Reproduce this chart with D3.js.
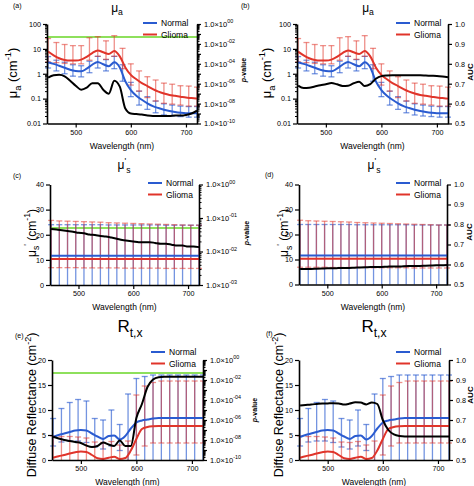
<!DOCTYPE html>
<html><head><meta charset="utf-8">
<script src="https://cdn.jsdelivr.net/npm/d3@7"></script>
<style>
body{margin:0;background:#fff}
svg{display:block}
text{font-family:"Liberation Sans",Arial,Helvetica,sans-serif;fill:#000}
</style>
</head><body>
<svg id="c" width="474" height="486"></svg>
<script>
// ---------------- DATA ----------------
const wl = [450,460,470,480,490,500,510,520,530,540,550,560,570,580,590,600,610,620,630,640,650,660,670,680,690,700,710,720];
const wlBars = [450,465,480,495,510,525,540,555,570,585,600,615,630,645,660,675,690,705,720];
const seriesNames = ["Normal","Glioma"];

// mu_a (cm^-1)
const muaNormal = [2.9,2.5,2.1,1.75,1.45,1.3,1.25,1.6,2.3,3.0,2.4,2.0,2.9,1.8,0.5,0.22,0.13,0.09,0.065,0.05,0.042,0.036,0.032,0.029,0.027,0.026,0.026,0.026];
const muaGlioma = [7.8,5.5,4.2,3.6,3.4,3.4,3.7,4.8,6.8,8.7,7.3,6.2,8.3,5.0,1.8,0.9,0.6,0.42,0.32,0.24,0.19,0.16,0.14,0.13,0.12,0.11,0.105,0.1];
const muaNormalHi = [4.9,3.5,2.9,2.3,2.1,3.2,5.0,3.7,5.0,2.3,0.45,0.2,0.12,0.08,0.062,0.055,0.05,0.048,0.048];
const muaNormalLo = [1.7,1.3,1.0,0.8,0.75,1.1,1.7,1.3,1.6,0.5,0.12,0.055,0.037,0.027,0.022,0.02,0.019,0.018,0.018];
const muaGliomaHi = [26,18,15,13.5,13.5,28,31,21,34,10.5,2.5,1.3,0.76,0.56,0.42,0.38,0.33,0.32,0.29];
const muaGliomaLo = [3.0,2.8,2.6,2.5,2.5,3.5,5.0,3.8,5.0,1.6,0.35,0.2,0.11,0.08,0.065,0.06,0.055,0.05,0.05];
const muaPvalue = [4.0e-6,7.1e-6,7.9e-6,5.6e-6,2.0e-6,6.3e-7,2.5e-7,4.0e-7,1.1e-6,1.1e-6,2.5e-7,1.0e-7,2.0e-6,5.0e-7,3.2e-9,1.0e-9,8.9e-10,7.9e-10,6.3e-10,5.6e-10,5.6e-10,5.6e-10,5.6e-10,6.3e-10,6.3e-10,7.1e-10,1.0e-9,2.0e-9];
const muaAUC = [0.690,0.678,0.680,0.686,0.692,0.697,0.703,0.697,0.689,0.690,0.702,0.710,0.688,0.698,0.725,0.738,0.741,0.742,0.742,0.742,0.742,0.742,0.742,0.741,0.740,0.739,0.736,0.732];

// mu_s' (cm^-1)
const musNormal = [11.6,11.6,11.6,11.6,11.6,11.6,11.6,11.6,11.6,11.6,11.6,11.6,11.6,11.6,11.6,11.6,11.6,11.6,11.6,11.6,11.6,11.6,11.6,11.6,11.6,11.6,11.6,11.6];
const musGlioma = [10.3,10.3,10.3,10.3,10.3,10.3,10.3,10.3,10.3,10.3,10.3,10.3,10.3,10.3,10.3,10.3,10.3,10.3,10.3,10.3,10.3,10.3,10.3,10.3,10.3,10.3,10.3,10.3];
const musNormalHi = [24.0,24.0,24.0,24.0,24.0,24.0,24.0,23.9,23.9,23.9,23.9,23.9,23.9,23.9,23.8,23.8,23.8,23.8,23.8];
const musNormalLo = [-0.8,-0.8,-0.8,-0.8,-0.8,-0.8,-0.8,-0.7,-0.7,-0.7,-0.7,-0.7,-0.7,-0.7,-0.6,-0.6,-0.6,-0.6,-0.6];
const musGliomaHi = [25.7,25.5,25.4,25.3,25.2,25.1,25.0,24.8,24.7,24.6,24.5,24.4,24.3,24.2,24.1,24.0,23.9,23.8,23.8];
const musGliomaLo = [6.9,6.9,6.9,6.9,6.8,6.8,6.8,6.8,6.8,6.7,6.7,6.7,6.7,6.7,6.6,6.6,6.6,6.6,6.6];
const musPvalue = [4.7e-2,4.5e-2,4.3e-2,4.1e-2,3.9e-2,3.6e-2,3.5e-2,3.2e-2,3.1e-2,2.9e-2,2.8e-2,2.6e-2,2.4e-2,2.2e-2,2.1e-2,2.0e-2,1.9e-2,1.9e-2,1.9e-2,1.8e-2,1.7e-2,1.7e-2,1.6e-2,1.5e-2,1.5e-2,1.4e-2,1.4e-2,1.35e-2];
const musAUC = [0.577,0.578,0.578,0.579,0.580,0.581,0.581,0.582,0.583,0.583,0.584,0.585,0.586,0.587,0.587,0.588,0.589,0.590,0.590,0.591,0.592,0.593,0.593,0.594,0.595,0.596,0.596,0.597];

// R_t,x diffuse reflectance (cm^-2)
const rtxNormal = [4.6,5.0,5.3,5.6,5.9,6.0,5.9,5.3,4.7,4.2,4.8,4.9,4.1,4.8,6.3,7.5,7.9,8.1,8.3,8.4,8.4,8.4,8.4,8.4,8.4,8.4,8.4,8.4];
const rtxGlioma = [0.45,0.75,1.0,1.3,1.55,1.7,1.6,1.0,0.35,0.2,0.45,0.65,0.2,0.4,1.9,4.2,6.2,6.6,6.75,6.8,6.8,6.8,6.8,6.8,6.8,6.8,6.8,6.8];
const rtxNormalHi = [8.3,10.3,11.5,12.1,11.8,8.3,8.0,10.0,7.1,13.2,16.3,16.7,17.0,17.0,17.0,17.0,17.0,17.0,17.0];
const rtxNormalLo = [2.8,3.6,3.8,3.8,3.5,2.6,2.2,2.8,1.9,-1,-1,-1,-1,-1,-1,-1,-1,-1,-1];
const rtxGliomaHi = [4.8,4.7,4.7,4.6,4.4,3.6,3.5,3.7,3.0,3.8,13.0,14.8,15.5,15.8,15.8,15.8,15.8,15.8,15.8];
const rtxGliomaLo = [-1,-1,-1,-1,-1,-1,-1,-1,-1,-1,1.0,2.8,3.4,3.4,3.4,3.4,3.4,3.4,3.4];
const rtxPvalue = [2.1e-8,1.4e-8,1.0e-8,7.9e-9,6.3e-9,5.0e-9,2.8e-9,2.0e-9,2.5e-9,5.6e-9,3.5e-9,2.5e-9,8.9e-9,2.5e-9,2.5e-9,1.6e-6,4.0e-5,2.0e-3,1.1e-2,1.9e-2,2.1e-2,2.1e-2,2.1e-2,2.1e-2,2.1e-2,2.1e-2,2.1e-2,2.1e-2];
const rtxAUC = [0.772,0.775,0.778,0.780,0.782,0.783,0.784,0.783,0.777,0.782,0.789,0.787,0.778,0.788,0.780,0.700,0.650,0.628,0.620,0.618,0.618,0.618,0.618,0.618,0.618,0.618,0.618,0.618];

const xTicks = [500,600,700];
const muaTicks = [0.01,0.1,1,10,100];
const musTicks = [0,10,20,30,40];
const rtxTicks = [0,5,10,15,20];
const aucTicks = [0.5,0.6,0.7,0.8,0.9,1.0];

// ---------------- STYLE ----------------
const BLUE = "#2a5bd0", RED = "#e0342a", GREEN = "#8ee05c";
const svg = d3.select("#c");

function rich(sel, parts, size){
  let off = 0;
  parts.forEach(p=>{
    const target = p.sub ? size*0.32 : (p.sup ? -size*0.42 : 0);
    const ts = sel.append("tspan").text(p.t).attr("dy", target-off)
      .attr("font-size", (p.sub||p.sup) ? size*0.72 : size);
    if (p.italic) ts.attr("font-style","italic");
    off = target;
  });
}

function supExp(e){
  const a = Math.abs(e); const s = (a<10?"0":"")+a;
  return (e<0?"-":"")+s;
}

function panel(P){
  const g = svg.append("g");
  const x = d3.scaleLinear().domain([448,720]).range([P.l,P.r]);
  const y = P.yLog ? d3.scaleLog().domain(P.yDom).range([P.b,P.t]) : d3.scaleLinear().domain(P.yDom).range([P.b,P.t]);
  const y2 = P.rightP ? d3.scaleLog().domain([P.pMin,1]).range([P.b,P.t]) : d3.scaleLinear().domain([0.5,1]).range([P.b,P.t]);

  if (P.rightP){
    g.append("line").attr("x1",P.l).attr("x2",P.r).attr("y1",y2(0.05)).attr("y2",y2(0.05))
      .attr("stroke",GREEN).attr("stroke-width",2);
  }

  const [d0,d1] = y.domain();
  function bars(hi, lo, color, op){
    const eg = g.append("g").attr("stroke",color).attr("stroke-opacity",op).attr("stroke-width",1.3).attr("fill","none");
    const rows = wlBars.map((w,i)=>({w, hi:hi[i], lo:lo[i]}));
    eg.selectAll("line.s").data(rows).join("line").attr("class","s")
      .attr("x1",d=>x(d.w)).attr("x2",d=>x(d.w))
      .attr("y1",d=>y(Math.min(d.hi,d1)))
      .attr("y2",d=>y(d.lo>d0 ? d.lo : d0));
    eg.selectAll("line.h").data(rows.filter(d=>d.hi<=d1)).join("line").attr("class","h")
      .attr("x1",d=>x(d.w)-3).attr("x2",d=>x(d.w)+3).attr("y1",d=>y(d.hi)).attr("y2",d=>y(d.hi));
    eg.selectAll("line.l").data(rows.filter(d=>d.lo>d0)).join("line").attr("class","l")
      .attr("x1",d=>x(d.w)-3).attr("x2",d=>x(d.w)+3).attr("y1",d=>y(d.lo)).attr("y2",d=>y(d.lo));
  }
  bars(P.nHi,P.nLo,BLUE,0.65);
  bars(P.gHi,P.gLo,RED,0.55);

  const line = (ys, sc)=> d3.line().x((d,i)=>x(wl[i])).y(d=>sc(d)).curve(d3.curveMonotoneX)(ys);
  g.append("path").attr("d",line(P.normal,y)).attr("fill","none").attr("stroke",BLUE).attr("stroke-width",2);
  g.append("path").attr("d",line(P.glioma,y)).attr("fill","none").attr("stroke",RED).attr("stroke-width",2);
  g.append("path").attr("d",line(P.black,y2)).attr("fill","none").attr("stroke","#000").attr("stroke-width",2);

  const fs = 7.2;
  const xa = g.append("g").attr("transform",`translate(0,${P.b})`)
    .call(d3.axisBottom(x).tickValues(xTicks).tickSize(4).tickSizeOuter(0).tickPadding(2));
  const ya = g.append("g").attr("transform",`translate(${P.l},0)`)
    .call(d3.axisLeft(y).tickValues(P.yTicks).tickFormat(P.yFmt).tickSize(4).tickSizeOuter(0).tickPadding(2));
  if (P.yLog){
    const minor=[]; for(let e=-2;e<2;e++) for(let m=2;m<10;m++) minor.push(m*Math.pow(10,e));
    g.append("g").attr("transform",`translate(${P.l},0)`)
      .call(d3.axisLeft(y).tickValues(minor).tickFormat("").tickSize(2).tickSizeOuter(0))
      .call(s=>s.select(".domain").remove());
  }
  let ra;
  if (P.rightP){
    const e0 = Math.round(Math.log10(P.pMin));
    const major=[]; for(let e=e0;e<=0;e++) major.push(Math.pow(10,e));
    const minor=[]; for(let e=e0;e<0;e++) for(let m=2;m<10;m++) minor.push(m*Math.pow(10,e));
    ra = g.append("g").attr("transform",`translate(${P.r},0)`)
      .call(d3.axisRight(y2).tickValues(major).tickFormat("").tickSize(4).tickSizeOuter(0).tickPadding(3));
    g.append("g").attr("transform",`translate(${P.r},0)`)
      .call(d3.axisRight(y2).tickValues(minor).tickFormat("").tickSize(2.5).tickSizeOuter(0))
      .call(s=>s.select(".domain").remove());
    ra.selectAll(".tick text").each(function(d){
      const e = Math.round(Math.log10(d));
      if (e % P.pStep !== 0) return;
      const t = d3.select(this).attr("font-size",P.pFs);
      t.append("tspan").text("1.0×10");
      t.append("tspan").text(supExp(e)).attr("dy",-3.5).attr("font-size",P.pFs*0.72);
    });
  } else {
    ra = g.append("g").attr("transform",`translate(${P.r},0)`)
      .call(d3.axisRight(y2).tickValues(aucTicks).tickFormat(d3.format(".1f")).tickSize(4).tickSizeOuter(0).tickPadding(3));
  }
  [xa,ya,ra].forEach(a=>{
    a.select(".domain").attr("stroke-width",1.6);
    a.selectAll(".tick line").attr("stroke-width",1.2);
    a.selectAll(".tick text").attr("font-family",null);
  });
  xa.selectAll(".tick text").attr("font-size",fs);
  ya.selectAll(".tick text").attr("font-size",fs);
  if(!P.rightP) ra.selectAll(".tick text").attr("font-size",fs);

  g.append("text").attr("x",(P.l+P.r)/2).attr("y",P.b+25).attr("text-anchor","middle")
    .attr("font-size",8.5).text("Wavelength (nm)");
  const yl = g.append("text").attr("text-anchor","middle")
    .attr("transform",`translate(${P.ylx},${P.yly}) rotate(-90)`);
  rich(yl, P.ylab, P.ylabFs);
  const rl = g.append("text").attr("text-anchor","middle").attr("font-weight","bold")
    .attr("transform",`translate(${P.rlx},${P.rly}) rotate(-90)`);
  if (P.rightP) rich(rl,[{t:"p",italic:true},{t:"-value"}],7);
  else rich(rl,[{t:"AUC"}],8);

  const tt = g.append("text").attr("x",P.tx).attr("y",P.ty).attr("text-anchor","middle");
  rich(tt, P.title, P.titleFs);
  g.append("text").attr("x",P.lx).attr("y",P.ly).attr("font-size",7).text(P.letter);

  [[BLUE,0],[RED,1]].forEach(([c,i])=>{
    const yy = P.legY + i*11.5;
    g.append("line").attr("x1",P.legX).attr("x2",P.legX+14).attr("y1",yy).attr("y2",yy)
      .attr("stroke",c).attr("stroke-width",2);
    g.append("text").attr("x",P.legX+18).attr("y",yy+3).attr("font-size",8.5).text(seriesNames[i]);
  });
}

const muaFmt = d=> String(d);
const muaTitle = [{t:"μ"},{t:"a",sub:true}];
const muaYlab = [{t:"μ"},{t:"a",sub:true},{t:" (cm"},{t:"-1",sup:true},{t:")"}];
const musTitle = [{t:"μ"},{t:"'",sup:true},{t:"s",sub:true}];
const musYlab = [{t:"μ"},{t:"s",sub:true},{t:"'",sup:true},{t:" (cm"},{t:"-1",sup:true},{t:")"}];
const rtxTitle = [{t:"R"},{t:"t,x",sub:true}];
const rtxYlab = [{t:"Diffuse Reflectance (cm"},{t:"-2",sup:true},{t:")"}];

const common = {
  mua:{yLog:true,yDom:[0.01,100],yTicks:muaTicks,yFmt:muaFmt,normal:muaNormal,glioma:muaGlioma,
       nHi:muaNormalHi,nLo:muaNormalLo,gHi:muaGliomaHi,gLo:muaGliomaLo,title:muaTitle,titleFs:12,ylab:muaYlab,ylabFs:13},
  mus:{yLog:false,yDom:[0,40],yTicks:musTicks,yFmt:d3.format("d"),normal:musNormal,glioma:musGlioma,
       nHi:musNormalHi,nLo:musNormalLo,gHi:musGliomaHi,gLo:musGliomaLo,title:musTitle,titleFs:12,ylab:musYlab,ylabFs:12},
  rtx:{yLog:false,yDom:[0,20],yTicks:rtxTicks,yFmt:d3.format("d"),normal:rtxNormal,glioma:rtxGlioma,
       nHi:rtxNormalHi,nLo:rtxNormalLo,gHi:rtxGliomaHi,gLo:rtxGliomaLo,title:rtxTitle,titleFs:17,ylab:rtxYlab,ylabFs:12.5}
};

panel({...common.mua, l:47,r:197,t:24,b:123.5, rightP:true,pMin:1e-10,pStep:2,pFs:7.5,black:muaPvalue,
  ylx:16.5,yly:73, rlx:245.5,rly:70, tx:117,ty:11.5, lx:13,ly:8,letter:"(a)", legX:143,legY:23});
panel({...common.mua, l:297,r:448,t:24,b:123.5, rightP:false,black:muaAUC,
  ylx:270.5,yly:73, rlx:472.8,rly:72, tx:368,ty:11.5, lx:241,ly:8,letter:"(b)", legX:396,legY:23});
panel({...common.mus, l:50,r:199,t:184.5,b:285, rightP:true,pMin:1e-3,pStep:1,pFs:7.5,black:musPvalue,
  ylx:35.5,yly:233, rlx:248.5,rly:233, tx:124,ty:169, lx:13,ly:178,letter:"(c)", legX:148,legY:183});
panel({...common.mus, l:299,r:447,t:184.5,b:284.5, rightP:false,black:musAUC,
  ylx:288,yly:233, rlx:471.8,rly:232, tx:374,ty:169, lx:265,ly:177,letter:"(d)", legX:396,legY:183});
panel({...common.rtx, l:52,r:203,t:360,b:460, rightP:true,pMin:1e-10,pStep:2,pFs:7.5,black:rtxPvalue,
  ylx:36,yly:405, rlx:256.5,rly:410, tx:130,ty:332, lx:15,ly:338,letter:"(e)", legX:151,legY:352});
panel({...common.rtx, l:299,r:449,t:360,b:460, rightP:false,black:rtxAUC,
  ylx:283,yly:405, rlx:473,rly:395, tx:374,ty:332, lx:266,ly:336,letter:"(f)", legX:396,legY:352});
</script>
</body></html>
